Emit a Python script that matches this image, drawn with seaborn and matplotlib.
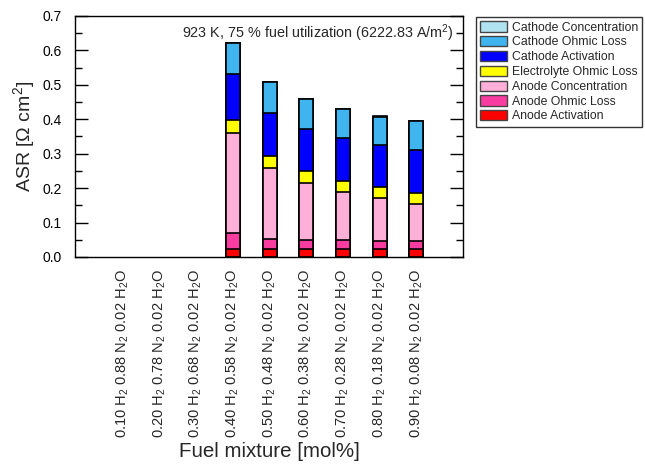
import numpy as np
import pandas as pd
import matplotlib
matplotlib.use("Agg")
import matplotlib.pyplot as plt
from matplotlib.patches import Patch
from matplotlib.ticker import MultipleLocator
import seaborn as sns

nan = np.nan
categories = [
    "0.10 H$_2$ 0.88 N$_2$ 0.02 H$_2$O",
    "0.20 H$_2$ 0.78 N$_2$ 0.02 H$_2$O",
    "0.30 H$_2$ 0.68 N$_2$ 0.02 H$_2$O",
    "0.40 H$_2$ 0.58 N$_2$ 0.02 H$_2$O",
    "0.50 H$_2$ 0.48 N$_2$ 0.02 H$_2$O",
    "0.60 H$_2$ 0.38 N$_2$ 0.02 H$_2$O",
    "0.70 H$_2$ 0.28 N$_2$ 0.02 H$_2$O",
    "0.80 H$_2$ 0.18 N$_2$ 0.02 H$_2$O",
    "0.90 H$_2$ 0.08 N$_2$ 0.02 H$_2$O",
]
anode_activation = [nan, nan, nan, 0.023, 0.024, 0.023, 0.024, 0.023, 0.023]
anode_ohmic = [nan, nan, nan, 0.048, 0.029, 0.0275, 0.0265, 0.0246, 0.0235]
anode_concentration = [nan, nan, nan, 0.290, 0.206, 0.1645, 0.1385, 0.1224, 0.1085]
electrolyte_ohmic = [nan, nan, nan, 0.038, 0.033, 0.035, 0.033, 0.033, 0.032]
cathode_activation = [nan, nan, nan, 0.132, 0.127, 0.123, 0.123, 0.121, 0.123]
cathode_ohmic = [nan, nan, nan, 0.091, 0.088, 0.086, 0.084, 0.084, 0.084]
cathode_concentration = [nan, nan, nan, 0.001, 0.001, 0.001, 0.001, 0.001, 0.001]

series_names = ["Anode Activation", "Anode Ohmic Loss", "Anode Concentration",
                "Electrolyte Ohmic Loss", "Cathode Activation", "Cathode Ohmic Loss",
                "Cathode Concentration"]
series_values = [anode_activation, anode_ohmic, anode_concentration, electrolyte_ohmic,
                 cathode_activation, cathode_ohmic, cathode_concentration]
series_colors = ["#ff0000", "#f83ca0", "#ffb0d8", "#ffff00", "#0000ff", "#40b4ee", "#b0e2f0"]

sns.set_style("ticks")
plt.rcParams["font.family"] = ["Liberation Sans", "DejaVu Sans"]
plt.rcParams["mathtext.fontset"] = "custom"
plt.rcParams["mathtext.rm"] = "Liberation Sans"
plt.rcParams["mathtext.it"] = "Liberation Sans"
plt.rcParams["mathtext.bf"] = "Liberation Sans:bold"

fig = plt.figure(figsize=(6.45, 4.7), dpi=100)
ax = fig.add_axes([75/645, 1-257/470, (463-75)/645, (257-16)/470])

cum = np.cumsum(np.array(series_values, dtype=float), axis=0)
for i in range(len(series_names) - 1, -1, -1):
    df = pd.DataFrame({"mix": categories, "asr": cum[i]})
    sns.barplot(data=df, x="mix", y="asr", order=categories, color=series_colors[i],
                saturation=1, width=0.38, edgecolor="black", linewidth=1.2,
                errorbar=None, ax=ax)

ax.set_xlim(-1.3, 9.27)
ax.set_ylim(0, 0.7)
ax.yaxis.set_major_locator(MultipleLocator(0.1))
ax.yaxis.set_minor_locator(MultipleLocator(0.05))
ax.yaxis.set_major_formatter(matplotlib.ticker.FormatStrFormatter("%.1f"))
ax.tick_params(axis="y", which="both", direction="in", left=True, right=True, labelsize=10,
               colors="black", pad=9.5)
ax.tick_params(axis="y", which="major", length=9.5, width=1)
ax.tick_params(axis="y", which="minor", length=5, width=1)
ax.tick_params(axis="x", length=0, pad=9, labelsize=10.5)
for lab in ax.get_xticklabels():
    lab.set_rotation(90)
for s in ax.spines.values():
    s.set_visible(True)
    s.set_color("black")
    s.set_linewidth(1.0)

ax.set_ylabel("ASR [$\\Omega$ cm$^2$]", fontsize=14, labelpad=4)
ax.set_xlabel("Fuel mixture [mol%]", fontsize=14.8, labelpad=3)

ax.text(0.975, 0.975, "923 K, 75 % fuel utilization (6222.83 A/m$^2$)",
        transform=ax.transAxes, ha="right", va="top", fontsize=10.35)

handles = [Patch(facecolor=series_colors[i], edgecolor="#444444", linewidth=1.0, label=series_names[i])
           for i in range(len(series_names) - 1, -1, -1)]
leg = fig.legend(handles=handles, loc="upper left", bbox_to_anchor=(476/645, 1-17/470),
                 bbox_transform=fig.transFigure, borderaxespad=0, fontsize=8.85,
                 frameon=True, fancybox=False, edgecolor="black", handlelength=2.2,
                 handleheight=0.9, labelspacing=0.2, handletextpad=0.35,
                 borderpad=0.35)
leg.get_frame().set_linewidth(1.0)

fig.savefig("out.png", dpi=100)
